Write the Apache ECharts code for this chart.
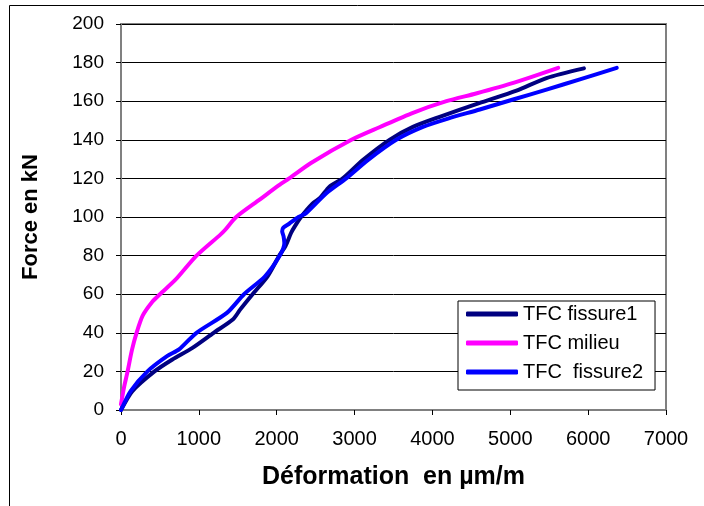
<!DOCTYPE html>
<html>
<head>
<meta charset="utf-8">
<script src="https://cdn.jsdelivr.net/npm/echarts@6/dist/echarts.min.js"></script>
<style>
  html, body { margin: 0; padding: 0; background: #fff; }
  #chart { width: 704px; height: 506px; }
</style>
</head>
<body>
<div id="chart"></div>
<script>
// deformation (µm/m) and force (kN)
const fissure1X = [0, 146, 430, 660, 918, 1190, 1440, 1530, 1690, 1883, 2033, 2111, 2184, 2230, 2312, 2462, 2560, 2677, 2849, 3106, 3449, 3750, 4093, 4600, 5080, 5465, 5946];
const fissure1Y = [0, 9.8, 20, 26.2, 32.2, 40, 47, 52, 60, 69.3, 80, 84.8, 91.7, 95, 100, 107, 110, 115.7, 120, 129.5, 140, 146.7, 151.9, 159, 165.5, 172, 177];

const milieuX = [0, 40, 85, 140, 200, 280, 400, 500, 700, 970, 1280, 1330, 1480, 1780, 2030, 2160, 2440, 2960, 3320, 3750, 4180, 4560, 5040, 5615];
const milieuY = [3, 12, 20, 31, 40, 49, 56, 60, 67.5, 80, 91, 93, 100, 109, 116.5, 120, 128, 140, 146.5, 154, 160, 164, 169.5, 177.3];

const fissure2X = [0, 124, 340, 596, 746, 970, 1360, 1580, 1850, 2040, 2098, 2088, 2070, 2085, 2160, 2280, 2377, 2634, 2892, 3170, 3535, 3878, 4200, 4608, 5036, 5465, 5894, 6367];
const fissure2Y = [0, 9.8, 20, 28, 31.4, 40, 50.3, 60, 69.3, 80, 86.5, 90, 92.6, 94.5, 96.5, 100, 102, 112.2, 120, 129.5, 140, 146.7, 151, 155.7, 160.9, 166, 171.3, 177.3];

const seriesNames = ["TFC fissure1", "TFC milieu", "TFC  fissure2"];
const seriesColors = ["#000080", "#ff00ff", "#0000ff"];

const font = "'Liberation Sans', Arial, sans-serif";

function zip(xs, ys) {
  return xs.map((x, i) => [x, ys[i]]);
}

const chart = echarts.init(document.getElementById("chart"));
const seriesData = [zip(fissure1X, fissure1Y), zip(milieuX, milieuY), zip(fissure2X, fissure2Y)];

chart.setOption({
  animation: false,
  textStyle: { fontFamily: font },
  graphic: [
    {
      type: "rect",
      silent: true,
      z: -1,
      shape: { x: 9.5, y: 5.5, width: 760, height: 560 },
      style: { fill: "none", stroke: "#000", lineWidth: 1 },
    },
  ],
  grid: {
    left: 121,
    right: 38,
    top: 24,
    bottom: 96,
    show: true,
    borderColor: "#808080",
    borderWidth: 2,
  },
  legend: {
    orient: "vertical",
    left: 458,
    top: 301,
    padding: [3, 12, 8, 8],
    icon: "roundRect",
    itemWidth: 52,
    itemHeight: 5,
    itemGap: 9,
    backgroundColor: "#fff",
    borderColor: "#000",
    borderWidth: 1,
    textStyle: { fontSize: 20, lineHeight: 20, color: "#000", fontFamily: font },
    data: seriesNames,
  },
  xAxis: {
    type: "value",
    min: 0,
    max: 7000,
    interval: 1000,
    name: "Déformation  en µm/m",
    nameLocation: "middle",
    nameGap: 55,
    nameTextStyle: { fontSize: 25, fontWeight: "bold", color: "#000", fontFamily: font },
    axisLine: { lineStyle: { color: "#808080", width: 2 } },
    axisTick: { show: true, length: 5, lineStyle: { color: "#000" } },
    axisLabel: {
      fontSize: 20,
      margin: 19,
      color: "#000",
      fontFamily: font,
      formatter: (v) => String(v),
    },
    splitLine: { show: false },
  },
  yAxis: {
    type: "value",
    min: 0,
    max: 200,
    interval: 20,
    name: "Force en kN",
    nameLocation: "middle",
    nameGap: 79,
    nameTextStyle: { fontSize: 22, fontWeight: "bold", color: "#000", fontFamily: font },
    axisLine: { show: true, lineStyle: { color: "#808080", width: 2 } },
    axisTick: { show: true, length: 5, lineStyle: { color: "#000" } },
    axisLabel: { fontSize: 19, margin: 17, color: "#000", fontFamily: font },
    splitLine: { show: true, lineStyle: { color: "#000", width: 1 } },
  },
  series: seriesNames.map((name, i) => ({
    name: name,
    type: "line",
    data: seriesData[i],
    symbol: "none",
    smooth: 0.25,
    color: seriesColors[i],
    itemStyle: { color: seriesColors[i] },
    lineStyle: { color: seriesColors[i], width: 4, cap: "round", join: "round" },
  })),
});
</script>
</body>
</html>
